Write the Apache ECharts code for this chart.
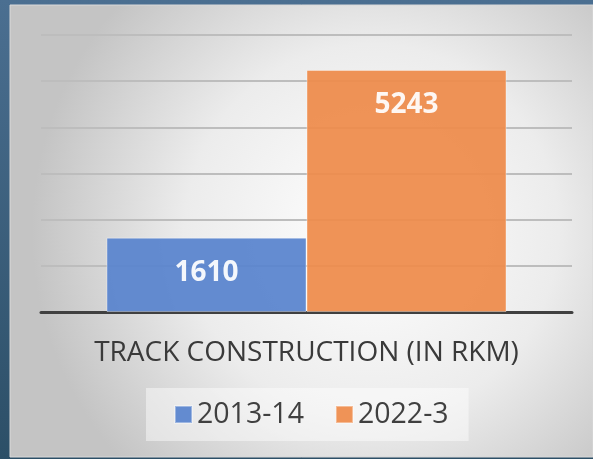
<!DOCTYPE html>
<html>
<head>
<meta charset="utf-8">
<script src="https://cdn.jsdelivr.net/npm/echarts@6/dist/echarts.min.js"></script>
<style>
html,body{margin:0;padding:0;}
#chart{width:593px;height:459px;}
</style>
</head>
<body>
<div id="chart"></div>
<script>
var categories=['TRACK CONSTRUCTION (IN RKM)'];
var seriesNames=['2013-14','2022-3'];
var values1314=[1610];
var values2223=[5243];
var yTicks=[0,1000,2000,3000,4000,5000,6000];

var myChart=echarts.init(document.getElementById('chart'));
var option={
    backgroundColor:new echarts.graphic.LinearGradient(0,0,0,1,[
        {offset:0,color:'#4b6f91'},
        {offset:1,color:'#2c4f67'}
    ]),
    graphic:[{
        type:'rect',
        z:-10,
        shape:{x:10,y:5,width:583,height:452},
        style:{
            fill:new echarts.graphic.RadialGradient(0.62,0.5,0.75,[
                {offset:0,color:'#ffffff'},
                {offset:0.55,color:'#ececec'},
                {offset:1,color:'#c4c4c4'}
            ]),
            stroke:'#d9d9d9',
            lineWidth:1
        }
    }],
    color:['#5883cd','#ee8b4a'],
    grid:{left:41,right:21,top:35,bottom:147},
    legend:{
        data:seriesNames,
        left:146,
        top:388,
        padding:[12,20,12,28],
        backgroundColor:'rgba(255,255,255,0.45)',
        itemWidth:17,
        itemHeight:17,
        itemGap:31,
        icon:'rect',
        textStyle:{fontFamily:'Open Sans',fontSize:28.5,color:'#404040'}
    },
    xAxis:[{
        type:'category',
        data:categories,
        axisTick:{show:false},
        axisLine:{show:true,lineStyle:{color:'#404040',width:3}},
        axisLabel:{margin:27,fontFamily:'Open Sans',fontSize:28,color:'#3a3a3a'}
    }],
    yAxis:[{
        type:'value',
        min:yTicks[0],
        max:yTicks[yTicks.length-1],
        interval:1000,
        axisLabel:{show:false},
        axisLine:{show:false},
        axisTick:{show:false},
        splitLine:{show:true,lineStyle:{color:'#bdbdbd',width:2}}
    }],
    series:[{
        name:seriesNames[0],
        type:'bar',
        barWidth:200,
        barGap:'0%',
        data:values1314,
        itemStyle:{opacity:0.93,borderColor:'rgba(255,255,255,0.4)',borderWidth:1},
        label:{show:true,position:'insideTop',distance:21,color:'#ffffff',fontWeight:'bold',fontFamily:'Open Sans',fontSize:28}
    },{
        name:seriesNames[1],
        type:'bar',
        barWidth:200,
        barGap:'0%',
        data:values2223,
        itemStyle:{opacity:0.93,borderColor:'rgba(255,255,255,0.4)',borderWidth:1},
        label:{show:true,position:'insideTop',distance:21,color:'#ffffff',fontWeight:'bold',fontFamily:'Open Sans',fontSize:28}
    }]
};
myChart.setOption(option);
</script>
</body>
</html>
